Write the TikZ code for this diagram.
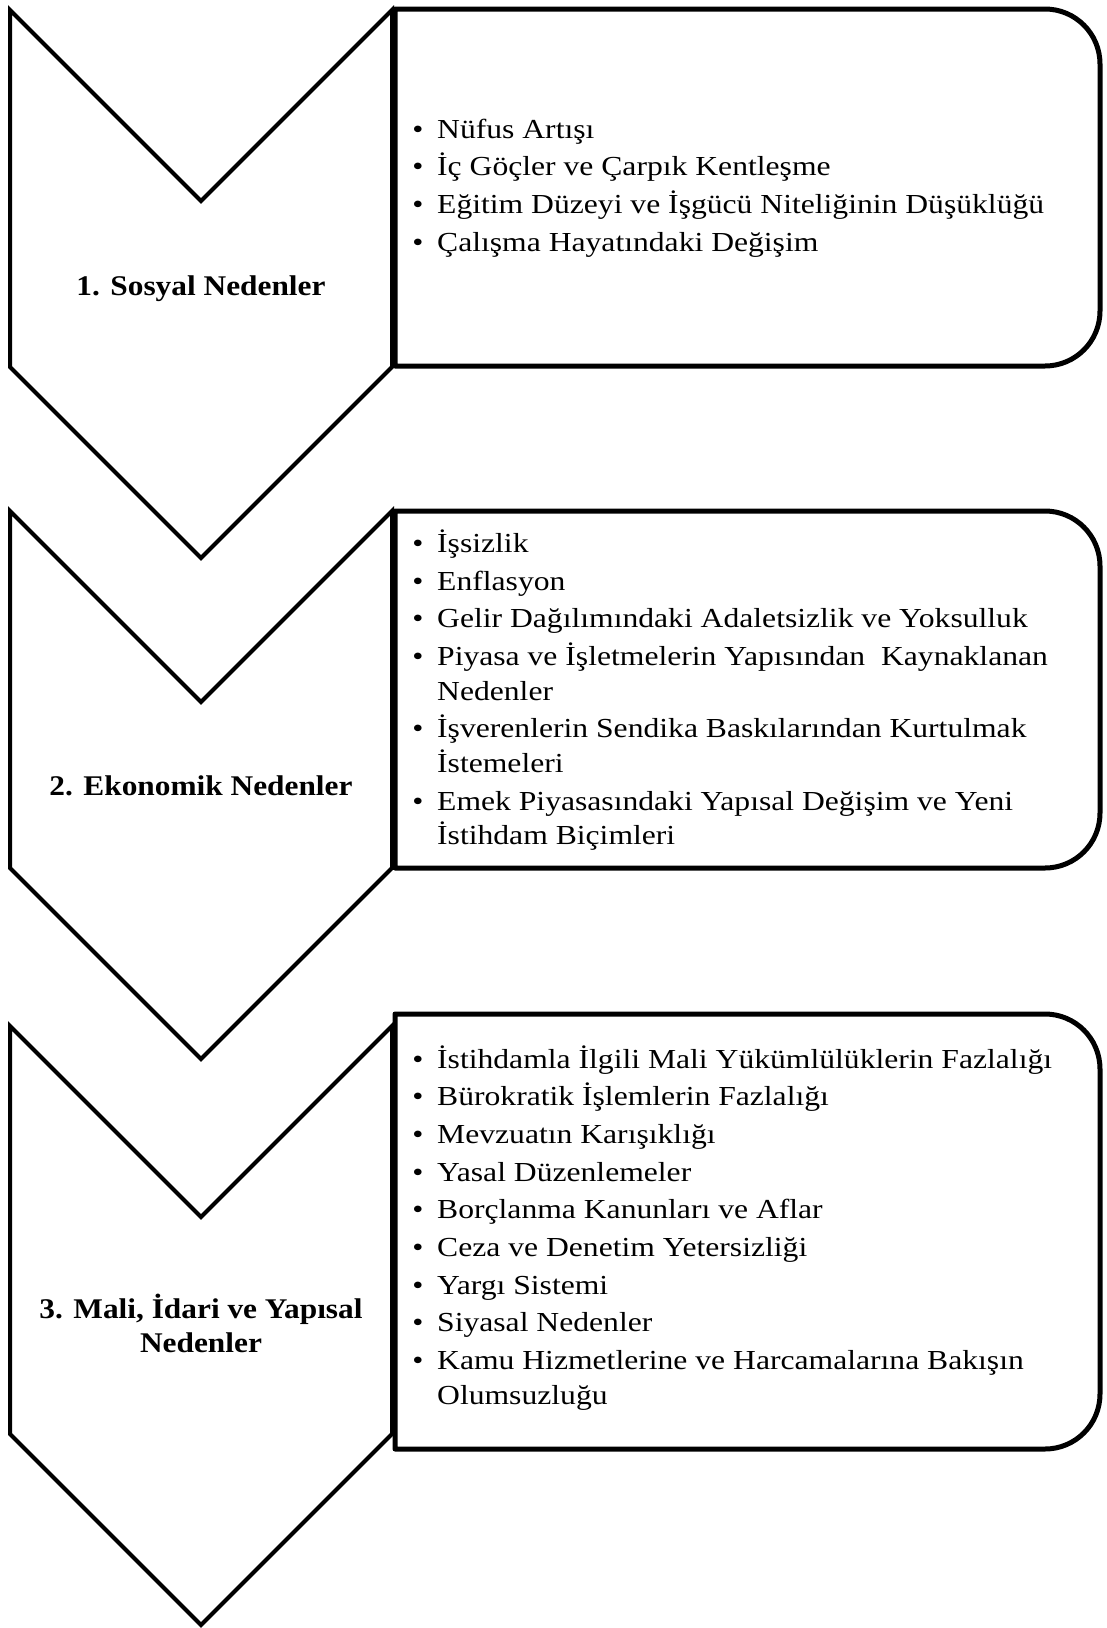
\documentclass[tikz,border=0pt]{standalone}
\usepackage{fontspec}
\setmainfont{Liberation Serif}
\newfontfamily\itemfont{Liberation Serif}[FakeStretch=1.15]
\newfontfamily\labelfont{Liberation Serif}[FakeStretch=1.10]
\begin{document}
\begin{tikzpicture}[x=1pt,y=1pt,
  chev/.style={draw=black, line width=4pt, line join=miter},
  rbox/.style={draw=black, line width=5pt, line join=round},
  itm/.style={anchor=base west, inner sep=0pt, font=\itemfont\fontsize{27.5}{34.5}\selectfont},
  bul/.style={anchor=base, inner sep=0pt, font=\itemfont\fontsize{27.5}{34.5}\selectfont},
  lbl/.style={anchor=base, inner sep=0pt, font=\labelfont\bfseries\fontsize{28.5}{34}\selectfont}]
\useasboundingbox[fill=white] (0,0) rectangle (1106,-1628);

% chevrons
\draw[chev] (10,-10) -- (201,-201) -- (392,-10) -- (392,-367) -- (201,-558) -- (10,-367) -- cycle;
\draw[chev] (10,-511) -- (201,-702) -- (392,-511) -- (392,-868) -- (201,-1059) -- (10,-868) -- cycle;
\draw[chev] (10,-1026) -- (201,-1217) -- (392,-1026) -- (392,-1434) -- (201,-1625) -- (10,-1434) -- cycle;

% rounded boxes
\draw[rbox] (395,-9) -- (1045,-9) arc[start angle=90,end angle=0,radius=55] -- (1100,-311) arc[start angle=0,end angle=-90,radius=55] -- (395,-366) -- cycle;
\draw[rbox] (395,-511) -- (1045,-511) arc[start angle=90,end angle=0,radius=55] -- (1100,-813) arc[start angle=0,end angle=-90,radius=55] -- (395,-868) -- cycle;
\draw[rbox] (395,-1014) -- (1045,-1014) arc[start angle=90,end angle=0,radius=55] -- (1100,-1394) arc[start angle=0,end angle=-90,radius=55] -- (395,-1449) -- cycle;

% labels
\node[lbl] (l1) at (201,-295) {1. Sosyal Nedenler};
\node[lbl] (l2) at (201,-795) {2. Ekonomik Nedenler};
\node[lbl] (l3a) at (201,-1318) {3. Mali, İdari ve Yapısal};
\node[lbl] (l3b) at (201,-1352) {Nedenler};

% box 1
\node[bul] (b11) at (418,-138) {•};   \node[itm] (t11) at (437,-138) {Nüfus Artışı};
\node[bul] (b12) at (418,-175.7) {•}; \node[itm] (t12) at (437,-175.7) {İç Göçler ve Çarpık Kentleşme};
\node[bul] (b13) at (418,-213.4) {•}; \node[itm] (t13) at (437,-213.4) {Eğitim Düzeyi ve İşgücü Niteliğinin Düşüklüğü};
\node[bul] (b14) at (418,-251.1) {•}; \node[itm] (t14) at (437,-251.1) {Çalışma Hayatındaki Değişim};

% box 2
\node[bul] (b21) at (418,-552.5) {•}; \node[itm] (t21) at (437,-552.5) {İşsizlik};
\node[bul] (b22) at (418,-590.2) {•}; \node[itm] (t22) at (437,-590.2) {Enflasyon};
\node[bul] (b23) at (418,-627.9) {•}; \node[itm] (t23) at (437,-627.9) {Gelir Dağılımındaki Adaletsizlik ve Yoksulluk};
\node[bul] (b24) at (418,-665.6) {•}; \node[itm] (t24) at (437,-665.6) {Piyasa ve İşletmelerin Yapısından\ \ Kaynaklanan};
\node[itm] (t24b) at (437,-700.1) {Nedenler};
\node[bul] (b25) at (418,-737.8) {•}; \node[itm] (t25) at (437,-737.8) {İşverenlerin Sendika Baskılarından Kurtulmak};
\node[itm] (t25b) at (437,-772.3) {İstemeleri};
\node[bul] (b26) at (418,-810) {•}; \node[itm] (t26) at (437,-810) {Emek Piyasasındaki Yapısal Değişim ve Yeni};
\node[itm] (t26b) at (437,-844.5) {İstihdam Biçimleri};

% box 3
\node[bul] (b31) at (418,-1068) {•};   \node[itm] (t31) at (437,-1068) {İstihdamla İlgili Mali Yükümlülüklerin Fazlalığı};
\node[bul] (b32) at (418,-1105.7) {•}; \node[itm] (t32) at (437,-1105.7) {Bürokratik İşlemlerin Fazlalığı};
\node[bul] (b33) at (418,-1143.4) {•}; \node[itm] (t33) at (437,-1143.4) {Mevzuatın Karışıklığı};
\node[bul] (b34) at (418,-1181.1) {•}; \node[itm] (t34) at (437,-1181.1) {Yasal Düzenlemeler};
\node[bul] (b35) at (418,-1218.8) {•}; \node[itm] (t35) at (437,-1218.8) {Borçlanma Kanunları ve Aflar};
\node[bul] (b36) at (418,-1256.5) {•}; \node[itm] (t36) at (437,-1256.5) {Ceza ve Denetim Yetersizliği};
\node[bul] (b37) at (418,-1294.2) {•}; \node[itm] (t37) at (437,-1294.2) {Yargı Sistemi};
\node[bul] (b38) at (418,-1331.9) {•}; \node[itm] (t38) at (437,-1331.9) {Siyasal Nedenler};
\node[bul] (b39) at (418,-1369.6) {•}; \node[itm] (t39) at (437,-1369.6) {Kamu Hizmetlerine ve Harcamalarına Bakışın};
\node[itm] (t39b) at (437,-1404.1) {Olumsuzluğu};
\end{tikzpicture}
\end{document}
